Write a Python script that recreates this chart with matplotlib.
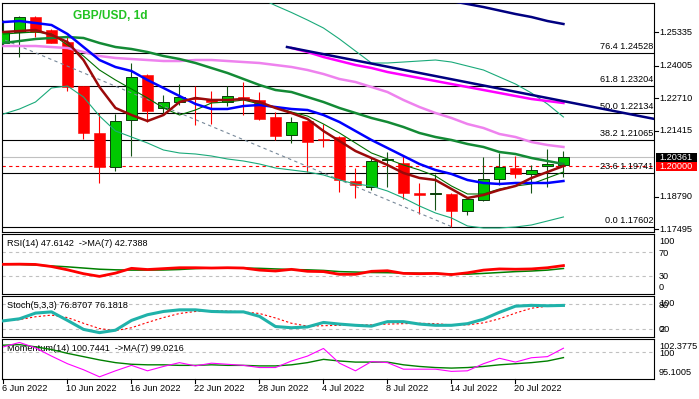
import matplotlib
matplotlib.use('Agg')
import matplotlib.pyplot as plt
import matplotlib.transforms as mtransforms
from matplotlib.patches import Rectangle

plt.rcParams['font.family'] = ['Liberation Sans', 'DejaVu Sans']

W, H = 699, 399
FS = 6.6

# ---------------- data ----------------
date_labels = ['6 Jun 2022', '10 Jun 2022', '16 Jun 2022', '22 Jun 2022', '28 Jun 2022',
               '4 Jul 2022', '8 Jul 2022', '14 Jul 2022', '20 Jul 2022']
date_bars = [0, 4, 8, 12, 16, 20, 24, 28, 32]

opens = [1.24922, 1.25359, 1.25933, 1.25427, 1.24949, 1.23210, 1.21316, 1.19963, 1.21833, 1.23636,
         1.22311, 1.22561, 1.22709, 1.22669, 1.22550, 1.22748, 1.22641, 1.21952, 1.21260, 1.21805,
         1.21077, 1.21180, 1.19417, 1.19190, 1.20241, 1.20122, 1.18940, 1.18888, 1.18900, 1.18211,
         1.18661, 1.19485, 1.19923, 1.19684, 1.20002, 1.20042]
highs = [1.25820, 1.25996, 1.25996, 1.25450, 1.25228, 1.23210, 1.22136, 1.22084, 1.24126, 1.23660,
         1.22840, 1.23266, 1.23198, 1.23011, 1.23198, 1.23369, 1.22971, 1.22175, 1.21952, 1.21820,
         1.21686, 1.21200, 1.19947, 1.20345, 1.20560, 1.20440, 1.19350, 1.19696, 1.18928, 1.18768,
         1.20384, 1.20520, 1.20412, 1.20054, 1.20691, 1.20623]
lows = [1.24846, 1.24341, 1.25160, 1.24890, 1.23011, 1.21077, 1.19350, 1.19827, 1.20412, 1.21777,
        1.22044, 1.22442, 1.21646, 1.21686, 1.22402, 1.22044, 1.21845, 1.21049, 1.20941, 1.19787,
        1.20782, 1.18991, 1.18753, 1.19059, 1.19190, 1.18689, 1.18092, 1.18263, 1.17602, 1.18052,
        1.18621, 1.19258, 1.19525, 1.18928, 1.19167, 1.19588]
closes = [1.25336, 1.25933, 1.25359, 1.24922, 1.23170, 1.21340, 1.19963, 1.21793, 1.23545, 1.22215,
          1.22550, 1.22748, 1.22669, 1.22561, 1.22788, 1.22681, 1.21873, 1.21208, 1.21753, 1.20981,
          1.21037, 1.19457, 1.19246, 1.20225, 1.20305, 1.18928, 1.18860, 1.18940, 1.18235, 1.18701,
          1.19485, 1.19963, 1.19708, 1.19867, 1.20094, 1.20361]

ma_maroon = [1.25347, 1.25387, 1.25427, 1.25228, 1.24949, 1.24233, 1.23158, 1.22323, 1.22044, 1.21805,
             1.22044, 1.22561, 1.22721, 1.22641, 1.22641, 1.22681, 1.22561, 1.22323, 1.22124, 1.21885,
             1.21407, 1.21009, 1.20611, 1.20333, 1.20054, 1.19736, 1.19537, 1.19457, 1.19099, 1.18741,
             1.18860, 1.19059, 1.19218, 1.19537, 1.19776, 1.20014]
ma_blue = [1.25745, 1.25785, 1.25705, 1.25626, 1.25268, 1.24750, 1.24233, 1.23954, 1.23795, 1.23437,
           1.23119, 1.22800, 1.22482, 1.22283, 1.22283, 1.22402, 1.22442, 1.22362, 1.22283, 1.22243,
           1.22044, 1.21765, 1.21407, 1.21049, 1.20731, 1.20412, 1.20094, 1.19855, 1.19696, 1.19457,
           1.19338, 1.19298, 1.19338, 1.19338, 1.19338, 1.19417]
sma20 = [1.24910, 1.24989, 1.25069, 1.25109, 1.25148, 1.25109, 1.24910, 1.24750, 1.24671, 1.24551,
         1.24392, 1.24273, 1.24114, 1.23915, 1.23716, 1.23477, 1.23238, 1.23039, 1.22959, 1.22760,
         1.22561, 1.22323, 1.22124, 1.21925, 1.21765, 1.21566, 1.21328, 1.21168, 1.21049, 1.20890,
         1.20771, 1.20571, 1.20492, 1.20333, 1.20213, 1.20094]
ma_violet = [1.24790, 1.24790, 1.24790, 1.24750, 1.24710, 1.24551, 1.24392, 1.24313, 1.24273, 1.24233,
             1.24193, 1.24193, 1.24233, 1.24233, 1.24193, 1.24153, 1.24114, 1.24034, 1.23955, 1.23835,
             1.23676, 1.23477, 1.23357, 1.23158, 1.22959, 1.22641, 1.22362, 1.22124, 1.21925, 1.21686,
             1.21527, 1.21288, 1.21168, 1.20969, 1.20850, 1.20771]
ma_thin = [1.25268, 1.25308, 1.25347, 1.25268, 1.24830, 1.24392, 1.23835, 1.23437, 1.23079, 1.22721,
           1.22323, 1.22044, 1.22243, 1.22522, 1.22561, 1.22641, 1.22482, 1.22362, 1.22163, 1.22004,
           1.21686, 1.21328, 1.20930, 1.20532, 1.20293, 1.20054, 1.19855, 1.19616, 1.19218, 1.18900,
           1.18900, 1.19099, 1.19218, 1.19298, 1.19537, 1.19776]
magenta_start = 18
ma_magenta = [1.24711, 1.24551, 1.24352, 1.24193, 1.24034, 1.23915, 1.23755, 1.23636, 1.23517,
              1.23397, 1.23278, 1.23158, 1.23039, 1.22920, 1.22800, 1.22681, 1.22601, 1.22522]
navy_start = 28
ma_navy = [1.26581, 1.26462, 1.26342, 1.26203, 1.26064, 1.25944, 1.25785, 1.25666]
bb_upper_start = 16
bb_upper = [1.26701, 1.26402, 1.26124, 1.25825, 1.25507, 1.25069, 1.24591, 1.24114, 1.24114, 1.24153,
            1.24193, 1.24233, 1.24153, 1.23994, 1.23835, 1.23557, 1.23278, 1.22920, 1.22482, 1.21965]
bb_lower = [1.22084, 1.22283, 1.22561, 1.23119, 1.23198, 1.22760, 1.22004, 1.21407, 1.21168, 1.20930,
            1.20651, 1.20532, 1.20492, 1.20412, 1.20293, 1.20213, 1.20094, 1.19935, 1.19855, 1.19776,
            1.19656, 1.19457, 1.19298, 1.19218, 1.19019, 1.18741, 1.18423, 1.18144, 1.17945, 1.17627,
            1.17547, 1.17547, 1.17586, 1.17666, 1.17825, 1.17985]

trend_navy_x = [17.72, 40.7]
trend_navy_y = [1.24750, 1.21885]
trend_gray_x = [-0.5, 28]
trend_gray_y = [1.25184, 1.17602]

fib_pcts = ['76.4', '61.8', '50.0', '38.2', '23.6', '0.0']
fib_levels = [1.24528, 1.23204, 1.22134, 1.21065, 1.19741, 1.17602]
price_ticks = [1.25335, 1.24005, 1.22710, 1.21415, 1.18790, 1.17495]
last_price = 1.20361
alert_price = 1.20000

rsi = [49.7, 50.0, 49.5, 46.0, 40.5, 34.0, 29.5, 35.0, 43.0, 41.0, 42.5, 44.0, 44.0, 43.5, 44.0,
       43.5, 40.0, 38.5, 41.3, 38.0, 37.5, 33.0, 33.0, 38.0, 39.0, 34.5, 34.0, 34.5, 32.5, 35.5,
       40.0, 42.0, 41.5, 42.0, 44.0, 47.6142]
rsi_ma = [49.7, 49.5, 48.5, 47.0, 45.5, 43.5, 41.5, 40.5, 40.0, 40.0, 40.2, 41.0, 42.5, 43.5, 43.5,
          43.5, 43.0, 42.0, 41.0, 40.5, 39.5, 37.5, 36.8, 36.0, 35.7, 35.2, 34.8, 34.5, 33.5, 33.2,
          34.5, 36.0, 37.5, 38.5, 40.0, 42.7388]
stoch_k = [39, 44, 58, 61, 40, 18, 10, 16, 40, 54, 62, 66, 66, 62, 61, 61, 50, 25, 22, 24, 35, 31,
           28, 26, 37, 37, 31, 28, 28, 32, 43, 60, 75, 77, 76, 76.8707]
stoch_d = [39, 42, 49, 53, 47, 33, 20, 15, 22, 35, 47, 57, 62, 64, 63, 61, 57, 46, 33, 26, 27, 28,
           29, 29, 31, 32, 33, 32, 29, 29, 34, 44, 58, 70, 75, 76.1818]
mom = [101.0, 101.8, 100.8, 99.3, 97.9, 96.8, 95.5, 96.6, 97.6, 96.6, 97.4, 98.1, 97.5, 98.0, 97.8,
       97.6, 97.2, 97.2, 98.4, 99.3, 100.7, 98.0, 96.6, 98.3, 98.1, 96.9, 96.9, 96.9, 96.5, 96.6,
       97.9, 98.9, 98.2, 99.0, 99.2, 100.7441]
mom_ma = [101.3, 101.4, 101.0, 100.5, 99.8, 99.2, 98.6, 98.1, 97.8, 97.7, 97.7, 97.6, 97.6, 97.7,
          97.6, 97.6, 97.5, 97.5, 97.7, 98.1, 98.7, 98.4, 98.2, 98.2, 98.2, 97.7, 97.4, 97.2, 97.1,
          97.2, 97.4, 97.7, 97.9, 98.1, 98.4, 99.0216]

# ---------------- figure ----------------
fig = plt.figure(figsize=(W / 100, H / 100), dpi=100)
fig.patch.set_facecolor('white')

XL, XR = 2.3, 654.0
XLIM = (-0.075, 40.66)


def px_axes(top, bottom):
    return fig.add_axes([XL / W, 1 - bottom / H, (XR - XL) / W, (bottom - top) / H])


def style(ax):
    ax.set_xlim(*XLIM)
    ax.set_xticks([])
    ax.set_yticks([])
    for s in ax.spines.values():
        s.set_linewidth(0.8)
        s.set_color('black')
    ax.set_facecolor('white')


def px_off(dx=0, dy=0):
    return mtransforms.ScaledTranslation(dx / 100, dy / 100, fig.dpi_scale_trans)


ax = px_axes(2.7, 232.3)
style(ax)
ax.set_ylim(1.17375, 1.26514)
xs = list(range(len(closes)))

# horizontal levels
for lv in fib_levels:
    ax.axhline(lv, color='black', lw=0.8, zorder=1)
ax.axhline(last_price, color='#c0c0c0', lw=0.8, zorder=1)
ax.axhline(alert_price, color='#ff0000', lw=0.8, ls=(0, (3, 3)), zorder=1)

blend_ax = mtransforms.blended_transform_factory(ax.transAxes, ax.transData)
for p, lv in zip(fib_pcts, fib_levels):
    ax.text(0.9985, lv, f'{p} {lv:.5f}', transform=blend_ax + px_off(0, 6),
            ha='right', va='center', fontsize=FS, color='black', zorder=1)

# candles
bw = 0.69
for i in xs:
    o, h, l, c = opens[i], highs[i], lows[i], closes[i]
    up = c >= o
    lo, hgt = min(o, c), max(abs(c - o), 0.00035)
    if up:
        ax.vlines(i, l, h, color='#145214', lw=0.8, zorder=2)
        ax.add_patch(Rectangle((i - bw / 2, lo), bw, hgt, facecolor='#00c800',
                               edgecolor='#0b3d0b', lw=0.7, zorder=3))
    else:
        ax.vlines(i, l, h, color='#ff0000', lw=0.8, zorder=2)
        ax.add_patch(Rectangle((i - bw / 2, lo), bw, hgt, facecolor='#ff0000',
                               edgecolor='#ff0000', lw=0.4, zorder=3))

# indicator lines
ax.plot(trend_gray_x, trend_gray_y, color='#778899', lw=0.8, ls=(0, (3, 3)), zorder=4)
ax.plot(xs[bb_upper_start:], bb_upper, color='#1aaa7a', lw=0.8, zorder=4)
ax.plot(xs, bb_lower, color='#1aaa7a', lw=0.8, zorder=4)
ax.plot(xs, ma_thin, color='#007000', lw=0.8, zorder=4)
ax.plot(xs, ma_violet, color='#ee82ee', lw=1.8, zorder=5)
ax.plot(xs[magenta_start:], ma_magenta, color='#ff00ff', lw=1.8, zorder=5)
ax.plot(trend_navy_x, trend_navy_y, color='#000080', lw=1.8, zorder=5)
ax.plot(xs[navy_start:], ma_navy, color='#000080', lw=1.8, zorder=5)
ax.plot(xs, sma20, color='#138a35', lw=1.8, zorder=5)
ax.plot(xs, ma_blue, color='#0000ff', lw=1.8, zorder=6)
ax.plot(xs, ma_maroon, color='#9b0a0a', lw=1.8, zorder=6)

ax.text(73 / W, 1 - 16 / H, 'GBP/USD, 1d', transform=fig.transFigure, fontsize=8.6,
        fontweight='bold', color='#22c322', ha='left', va='center', zorder=7)

# right price scale
blend_fig = mtransforms.blended_transform_factory(fig.transFigure, ax.transData)
for pt in price_ticks:
    fig.text(659.5 / W, pt, f'{pt:.5f}', transform=blend_fig, ha='left', va='center',
             fontsize=FS, color='black')
    ax.plot([1.0, 1.0 + 4 / (XR - XL)], [pt, pt], transform=blend_ax, color='black',
            lw=0.8, clip_on=False)

box_h = 0.0038
for val, fc, bh in [(last_price, 'black', box_h), (alert_price, '#ff0000', box_h)]:
    fig.patches.append(Rectangle((655.5 / W, val - bh / 2), 41.5 / W, bh, transform=blend_fig,
                                 facecolor=fc, edgecolor='none', figure=fig))
    fig.text(659.5 / W, val, f'{val:.5f}', transform=blend_fig, ha='left', va='center',
             fontsize=FS, color='white')

# ---------------- RSI ----------------
ax_rsi = px_axes(234.3, 294.0)
style(ax_rsi)
ax_rsi.set_ylim(0, 100)
for lv in (70, 30):
    ax_rsi.axhline(lv, color='#c0c0c0', lw=0.8, ls=(0, (3, 3)))
ax_rsi.plot(xs, rsi_ma, color='#008000', lw=1.1, zorder=3)
ax_rsi.plot(xs, rsi, color='#ff0000', lw=2.0, zorder=4)
ax_rsi.text(0, 1, f'RSI(14) {rsi[-1]:.4f}  ->MA(7) {rsi_ma[-1]:.4f}',
            transform=ax_rsi.transAxes + px_off(5, -9), ha='left', va='center', fontsize=FS)

# ---------------- Stochastic ----------------
ax_st = px_axes(296.0, 336.7)
style(ax_st)
ax_st.set_ylim(0, 100)
for lv in (80, 20):
    ax_st.axhline(lv, color='#c0c0c0', lw=0.8, ls=(0, (3, 3)))
ax_st.plot(xs, stoch_d, color='#ff0000', lw=0.8, ls=(0, (2, 2)), zorder=3)
ax_st.plot(xs, stoch_k, color='#20b2aa', lw=2.2, zorder=4)
ax_st.text(0, 1, f'Stoch(5,3,3) {stoch_k[-1]:.4f} {stoch_d[-1]:.4f}',
           transform=ax_st.transAxes + px_off(5, -10), ha='left', va='center', fontsize=FS)

# ---------------- Momentum ----------------
ax_m = px_axes(339.3, 379.0)
style(ax_m)
mom_max, mom_min = 102.3775, 95.1005
ax_m.set_ylim(mom_min, mom_max)
ax_m.axhline(100, color='#c0c0c0', lw=0.8, ls=(0, (3, 3)))
ax_m.text(0, 1, f'Momentum(14) {mom[-1]:.4f}  ->MA(7) {mom_ma[-1]:.4f}',
          transform=ax_m.transAxes + px_off(5, -9), ha='left', va='center', fontsize=FS, zorder=1)
ax_m.plot(xs, mom_ma, color='#008000', lw=1.0, zorder=3)
ax_m.plot(xs, mom, color='#ff00ff', lw=0.8, zorder=4)

# sub-window scales (the reference overlaps the clamped extreme labels with the level labels)
for a, items in [(ax_rsi, [(100, '100', -7.4), (70, '70', -1), (30, '30', 0), (0, '0', 6.7)]),
                 (ax_st, [(100, '100', -7.3), (80, '80', -1), (20, '20', -0.7), (0, '0', 6.7)]),
                 (ax_m, [(mom_max, f'{mom_max:.4f}', -7.4), (100, '100', -1),
                         (mom_min, f'{mom_min:.4f}', 6.3)])]:
    bt = mtransforms.blended_transform_factory(fig.transFigure, a.transData)
    for v, t, dy in items:
        fig.text(659 / W, v, t, transform=bt + px_off(0, dy), ha='left', va='center',
                 fontsize=FS, color='black')

# date axis
bdate = mtransforms.blended_transform_factory(ax_m.transData, fig.transFigure)
for b, lab in zip(date_bars, date_labels):
    fig.text(b, 1 - 388.3 / H, lab, transform=bdate + px_off(-1.4, 0), ha='left',
             va='center', fontsize=FS, color='black')
    ax_m.plot([b, b], [0, -4 / 39.7], transform=mtransforms.blended_transform_factory(
        ax_m.transData, ax_m.transAxes), color='black', lw=0.8, clip_on=False)

fig.savefig('out.png', dpi=100)
